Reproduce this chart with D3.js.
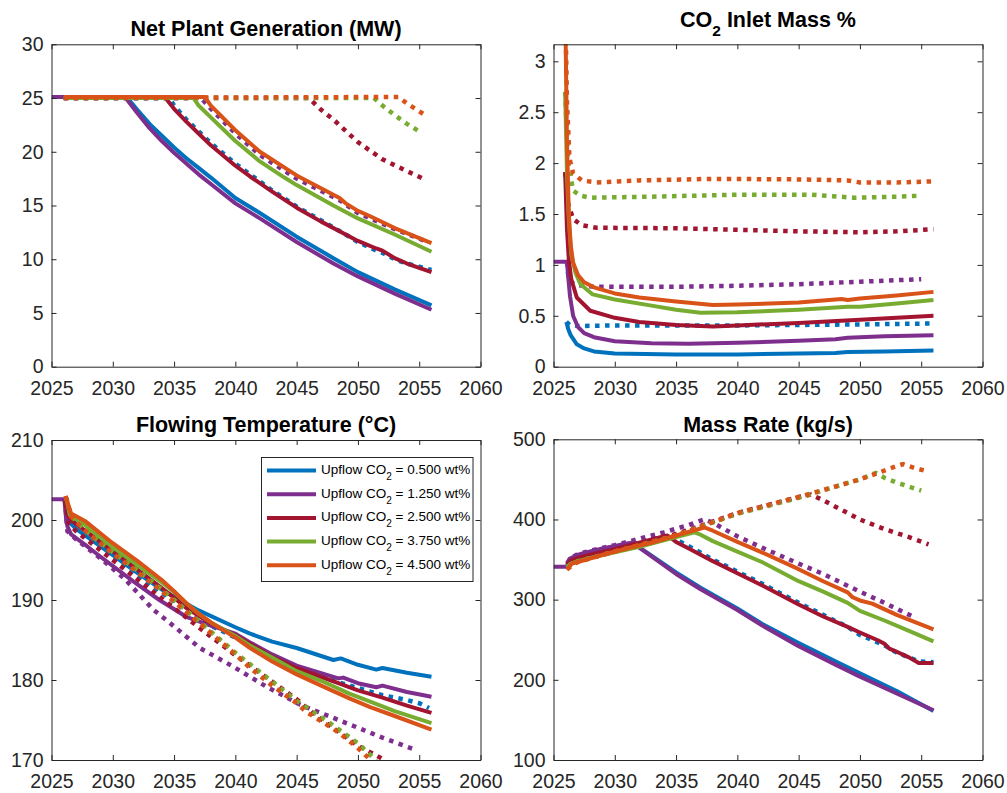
<!DOCTYPE html>
<html>
<head>
<meta charset="utf-8">
<script src="https://cdn.jsdelivr.net/npm/d3@7"></script>
<style>
  body { margin: 0; background: #fff; }
  svg { display: block; font-family: "Liberation Sans", Arial, sans-serif; }
  .tick-label { font-size: 19.5px; fill: #262626; }
  .panel-title { font-size: 21.5px; font-weight: bold; fill: #000; }
  .legend-text { font-size: 13.5px; fill: #000; }
</style>
</head>
<body>
<svg></svg>
<script>
// DATA  (series order: blue, purple, red, green, orange)
const seriesColors = ["#0072BD", "#7E2F8E", "#A2142F", "#77AC30", "#D95319"];
const upflowCO2 = ["0.500", "1.250", "2.500", "3.750", "4.500"];
const xTicks = [2025, 2030, 2035, 2040, 2045, 2050, 2055, 2060];

const genTicks = [0, 5, 10, 15, 20, 25, 30];
const co2Ticks = [0, 0.5, 1, 1.5, 2, 2.5, 3];
const tempTicks = [170, 180, 190, 200, 210];
const rateTicks = [100, 200, 300, 400, 500];

// Net Plant Generation (MW)
const genSolid = [
  [[2026,25.0],[2031.2,25.0],[2032,23.9],[2033,22.6],[2034,21.5],[2035,20.4],[2036,19.4],[2037,18.5],[2038,17.6],[2040,15.7],[2042,14.3],[2045,12.1],[2048,10.1],[2050,8.8],[2053,7.2],[2056,5.7]],
  [[2025,25.1],[2031,25.1],[2032,23.6],[2033,22.2],[2034,21.0],[2035,19.9],[2036,18.9],[2037,17.9],[2038,17.0],[2040,15.2],[2042,13.8],[2045,11.6],[2048,9.6],[2050,8.4],[2053,6.8],[2056,5.3]],
  [[2026,25.0],[2034.3,25.0],[2035,24.0],[2036,22.8],[2037,21.7],[2038,20.6],[2040,18.7],[2041.2,17.7],[2043,16.3],[2045,14.8],[2047,13.5],[2049,12.3],[2050,11.7],[2051.5,11.0],[2052,10.8],[2053,10.1],[2054,9.6],[2056,8.8]],
  [[2026,25.0],[2036.6,25.0],[2037,24.3],[2038,23.2],[2040,21.0],[2042,19.1],[2044,17.6],[2045,16.9],[2048,15.0],[2050,13.8],[2053,12.3],[2056,10.7]],
  [[2026,25.1],[2037.5,25.1],[2038,24.3],[2040,22.0],[2042,20.0],[2045,17.8],[2048.5,15.7],[2049,15.2],[2050,14.5],[2051,14.0],[2053,12.9],[2056,11.5]]
];
const genDotted = [
  [[2026,25.0],[2034.6,25.0],[2035,24.3],[2036,23.0],[2037,21.9],[2038,20.8],[2040,18.9],[2043,16.4],[2045,14.9],[2047,13.6],[2049,12.3],[2050,11.6],[2051.5,10.8],[2052,10.6],[2053,10.0],[2054,9.6],[2056,9.0]],
  [[2026,25.0],[2037.2,25.0],[2038,24.0],[2040,21.7],[2042,19.7],[2045,17.5],[2048.5,15.5],[2050,14.3],[2053,12.8],[2055.5,11.7]],
  [[2026,25.0],[2046,25.0],[2047,23.9],[2048,23.0],[2050,20.9],[2052,19.3],[2054,18.2],[2055.5,17.4]],
  [[2026,25.0],[2051.3,25.0],[2052,24.3],[2053,23.4],[2054,22.6],[2055,21.9]],
  [[2026,25.0],[2053.3,25.1],[2054,24.5],[2055.5,23.4]]
];

// CO2 Inlet Mass %
const co2Solid = [
  [[2026.05,0.44],[2026.2,0.37],[2026.4,0.31],[2026.9,0.22],[2027.5,0.18],[2028.3,0.15],[2030,0.13],[2035,0.12],[2040,0.12],[2045,0.13],[2048,0.135],[2049,0.145],[2052,0.15],[2056,0.16]],
  [[2025,1.03],[2026.1,1.03],[2026.2,0.88],[2026.35,0.69],[2026.6,0.5],[2027,0.39],[2027.5,0.33],[2028.3,0.29],[2030,0.25],[2033,0.23],[2036,0.225],[2040,0.235],[2045,0.255],[2048,0.27],[2049,0.285],[2052,0.3],[2056,0.31]],
  [[2025.95,1.91],[2026.1,1.35],[2026.25,1.05],[2026.45,0.86],[2026.9,0.68],[2028,0.55],[2030,0.48],[2032,0.44],[2035,0.41],[2038,0.395],[2040,0.405],[2045,0.43],[2050,0.46],[2053,0.48],[2056,0.5]],
  [[2025.95,2.7],[2026.1,1.9],[2026.25,1.45],[2026.45,1.1],[2026.8,0.92],[2027.2,0.81],[2028.2,0.71],[2030,0.66],[2033,0.6],[2035,0.56],[2037,0.53],[2040,0.535],[2045,0.56],[2049,0.59],[2050,0.59],[2053,0.62],[2056,0.655]],
  [[2025.95,3.6],[2026.1,2.2],[2026.25,1.5],[2026.4,1.2],[2026.6,1.02],[2027,0.9],[2027.5,0.83],[2028.3,0.78],[2030,0.72],[2032,0.68],[2035,0.64],[2038,0.605],[2040,0.61],[2045,0.63],[2048.5,0.665],[2049,0.655],[2050,0.67],[2053,0.7],[2056,0.735]]
];
const co2Dotted = [
  [[2026.05,0.44],[2026.3,0.41],[2027,0.4],[2030,0.405],[2040,0.405],[2050,0.415],[2056,0.425]],
  [[2026.1,1.03],[2026.2,0.9],[2026.4,0.83],[2027,0.8],[2028.3,0.785],[2035,0.785],[2040,0.795],[2045,0.81],[2050,0.835],[2055,0.86]],
  [[2025.95,1.91],[2026.2,1.6],[2026.6,1.45],[2027.3,1.39],[2028.5,1.365],[2035,1.36],[2040,1.345],[2045,1.33],[2050,1.32],[2053,1.33],[2056,1.35]],
  [[2025.95,2.7],[2026.2,2.0],[2026.6,1.73],[2027.2,1.68],[2028,1.66],[2033,1.67],[2040,1.69],[2046,1.69],[2049.5,1.66],[2053,1.67],[2055,1.68]],
  [[2025.95,3.6],[2026.1,2.6],[2026.3,2.05],[2026.6,1.9],[2027.3,1.83],[2028.5,1.81],[2032,1.83],[2038,1.845],[2045,1.84],[2049,1.83],[2050,1.81],[2053,1.81],[2056,1.82]]
];

// Flowing Temperature (°C)
const tempSolid = [
  [[2026.1,202.6],[2026.4,199.8],[2027,198.9],[2028,197.8],[2030,195.6],[2032,193.4],[2034,191.3],[2035,190.4],[2037,188.7],[2040,186.6],[2041.2,185.8],[2043,184.8],[2045,184.0],[2048,182.5],[2048.6,182.7],[2050,181.9],[2051.5,181.3],[2052,181.5],[2054,180.9],[2056,180.4]],
  [[2025,202.6],[2026.05,202.6],[2026.2,200.0],[2026.3,199.2],[2026.6,198.2],[2028,196.6],[2029,195.4],[2031.7,192.3],[2033.8,190.0],[2036,187.9],[2038,186.8],[2040,185.8],[2041.2,184.7],[2043,183.2],[2045,181.8],[2048.4,180.2],[2048.8,180.3],[2050,179.6],[2051.5,179.1],[2052,179.3],[2054,178.5],[2056,177.9]],
  [[2026.1,202.4],[2026.4,200.4],[2027,199.5],[2028,198.4],[2030,196.1],[2032,193.8],[2034,191.5],[2035,190.3],[2036,189.0],[2038,187.1],[2040,185.6],[2041.2,184.5],[2043,182.9],[2045,181.5],[2048.4,179.6],[2050,178.7],[2052,177.8],[2054,176.8],[2056,175.9]],
  [[2026.2,202.8],[2026.5,200.6],[2027.8,199.3],[2030,196.6],[2032,194.4],[2034,192.2],[2035,191.0],[2036,189.6],[2037,188.3],[2038,187.2],[2040,185.5],[2041.2,184.3],[2043,182.8],[2045,181.1],[2047,179.9],[2049.3,178.3],[2051,177.3],[2053,176.1],[2056,174.6]],
  [[2026.15,203.0],[2026.6,200.8],[2027.8,199.8],[2030,197.1],[2032,194.9],[2034,192.5],[2035,191.1],[2036,189.6],[2037,188.3],[2038,187.2],[2040,185.3],[2041.2,184.0],[2043,182.3],[2045,180.7],[2047,179.3],[2049.3,177.7],[2051,176.6],[2053,175.5],[2056,173.8]]
];
const tempDotted = [
  [[2026.1,202.4],[2026.4,199.6],[2027,198.8],[2028,197.7],[2030,195.5],[2032,193.2],[2034,190.9],[2035,189.8],[2036,188.6],[2038,186.8],[2040,185.3],[2043,183.0],[2045,181.6],[2048,179.9],[2050,179.0],[2052,178.1],[2054,177.5],[2055,177.1],[2055.8,176.5]],
  [[2026.1,202.6],[2026.3,198.6],[2027,197.6],[2029,195.2],[2031,192.6],[2033.3,188.8],[2035,186.7],[2037.1,184.0],[2039.8,181.7],[2042.5,179.2],[2045.3,176.9],[2049.4,174.4],[2052,172.8],[2054.8,171.2]],
  [[2026.1,202.4],[2026.4,199.6],[2027,198.6],[2028,197.4],[2030,195.0],[2032,192.6],[2034,190.2],[2035,189.0],[2037,186.6],[2040,183.1],[2043,179.8],[2045,177.6],[2046.6,175.5],[2048,174.0],[2050,171.8],[2052.3,169.9]],
  [[2026.2,202.8],[2026.6,200.5],[2028,198.4],[2030,196.0],[2032,193.7],[2034,191.3],[2035,190.0],[2037,187.4],[2040,183.4],[2043,179.8],[2045,177.4],[2048,174.3],[2050,172.1],[2051.5,169.9]],
  [[2026.15,203.0],[2026.6,200.4],[2028,198.3],[2030,195.8],[2032,193.5],[2034,191.1],[2035,189.8],[2037,187.2],[2040,183.2],[2041.2,181.5],[2043,179.3],[2045,177.1],[2045.8,176.0],[2048,173.9],[2049.1,172.6],[2050,171.5],[2051.3,169.6]]
];

// Mass Rate (kg/s)
const rateSolid = [
  [[2026.1,344],[2026.4,350],[2027,354],[2028,358],[2029,362],[2030,365],[2031,368],[2031.5,369],[2032,365],[2033,355],[2035,334],[2037,315],[2040,289],[2042,270],[2045,246],[2048,223],[2050,208],[2053,186],[2056,161]],
  [[2025,341],[2026.1,341],[2026.3,351],[2027,356],[2028,360],[2029,364],[2030,367],[2031,370],[2031.4,371],[2032,365],[2033,354],[2035,332],[2037,313],[2040,287],[2042,268],[2045,242],[2048,219],[2050,204],[2053,183],[2056,162]],
  [[2026.1,343],[2026.4,349],[2027,352],[2028,356],[2030,363],[2032,371],[2033,375],[2034.3,380],[2035,372],[2036,364],[2038,348],[2040,333],[2042,318],[2045,294],[2047,279],[2049,266],[2050,259],[2051.5,249],[2052,245],[2052.4,239],[2053,235],[2054,228],[2054.8,221],[2056,221]],
  [[2026.1,340],[2026.4,345],[2027,348],[2028,352],[2030,359],[2032,366],[2034,374],[2036.5,384],[2037,381],[2038,373],[2040,360],[2042,347],[2045,323],[2047,310],[2049,296],[2049.5,291],[2050,286],[2052,274],[2054,261],[2056,248]],
  [[2026.1,337],[2026.5,345],[2027,347],[2028.8,355],[2031.5,366],[2033,371],[2035,380],[2037.3,390],[2038,386],[2040,372],[2042,359],[2045,338],[2047,323],[2049,309],[2049.4,303],[2050,299],[2051,295],[2053,281],[2056,263]]
];
const rateDotted = [
  [[2026.1,343],[2027,352],[2030,363],[2033,375],[2034.6,381],[2035,375],[2036,367],[2038,350],[2040,335],[2042,320],[2045,296],[2047,281],[2049,266],[2050,256],[2052,243],[2053,234],[2054,228],[2054.8,223],[2056,222]],
  [[2026.1,345],[2026.4,352],[2027,357],[2028,361],[2030,368],[2032,376],[2034,384],[2036,393],[2037.3,400],[2038,396],[2040,379],[2042,365],[2045,345],[2047,332],[2050,310],[2052,296],[2054.3,279]],
  [[2026.1,343],[2027,350],[2030,362],[2033,374],[2035,382],[2037,392],[2040,408],[2043,420],[2045,428],[2046,431],[2047,424],[2048,416],[2050,400],[2052,388],[2054,378],[2055.6,369]],
  [[2026.1,341],[2027,348],[2030,360],[2033,372],[2035,380],[2037,391],[2040,407],[2043,419],[2045,427],[2048,441],[2050,450],[2051.3,458],[2052,452],[2053,446],[2054,441],[2055,436]],
  [[2026.1,338],[2027,347],[2030,360],[2033,372],[2035,380],[2037,391],[2040,408],[2043,420],[2045,428],[2048,441],[2050,450],[2051.5,458],[2052.5,464],[2053.5,469],[2054.5,464],[2055.5,460]]
];

// GLOBAL DECLARATIONS
let svg;
let xDomain = [2025, 2060];

setupPage();

drawPanel({id: "gen", left: 51.5, top: 44.3, width: 429, height: 322.4, yDomain: [0, 30], yTicks: genTicks,
  solid: genSolid, dotted: genDotted, titleY: 36, title: [{text: "Net Plant Generation (MW)"}]});
drawPanel({id: "co2", left: 553.5, top: 44.3, width: 429, height: 322.4, yDomain: [0, 3.167], yTicks: co2Ticks,
  solid: co2Solid, dotted: co2Dotted, titleY: 26.7, title: [{text: "CO"}, {text: "2", sub: true}, {text: " Inlet Mass %"}]});
drawPanel({id: "temp", left: 51.5, top: 440, width: 429, height: 320, yDomain: [170, 210], yTicks: tempTicks,
  solid: tempSolid, dotted: tempDotted, titleY: 431.7, title: [{text: "Flowing Temperature (°C)"}]});
drawPanel({id: "rate", left: 553.5, top: 439.3, width: 429, height: 320.7, yDomain: [100, 500], yTicks: rateTicks,
  solid: rateSolid, dotted: rateDotted, titleY: 431.7, title: [{text: "Mass Rate (kg/s)"}]});

drawLegend();

function setupPage(){
  svg = d3.select("svg")
    .attr("width", 1007)
    .attr("height", 793);
}

function drawPanel(p){
  let g = svg.append("g").attr("transform", `translate(${p.left},${p.top})`);

  let x = d3.scaleLinear().domain(xDomain).range([0, p.width]);
  let y = d3.scaleLinear().domain(p.yDomain).range([p.height, 0]);

  g.append("clipPath").attr("id", "clip-" + p.id)
    .append("rect").attr("width", p.width).attr("height", p.height);

  let line = d3.line()
    .x(d => x(d[0]))
    .y(d => y(d[1]));

  let plot = g.append("g").attr("clip-path", `url(#clip-${p.id})`);

  // solid then dotted line for each upflow case
  seriesColors.forEach(function(color, i){
    plot.append("path")
      .datum(p.solid[i])
      .attr("d", line)
      .attr("fill", "none")
      .attr("stroke", color)
      .attr("stroke-width", 4)
      .attr("stroke-linejoin", "round");
    plot.append("path")
      .datum(p.dotted[i])
      .attr("d", line)
      .attr("fill", "none")
      .attr("stroke", color)
      .attr("stroke-width", 4.5)
      .attr("stroke-dasharray", "4.5,5.5");
  });

  // axes box with inward ticks
  let bottom = g.append("g")
    .attr("transform", `translate(0,${p.height})`)
    .call(d3.axisBottom(x).tickValues(xTicks).tickSizeInner(-5).tickSizeOuter(0).tickPadding(14).tickFormat(d3.format("d")));
  let left = g.append("g")
    .call(d3.axisLeft(y).tickValues(p.yTicks).tickSizeInner(-5).tickSizeOuter(0).tickPadding(8).tickFormat(d => String(d)));
  let top = g.append("g")
    .call(d3.axisTop(x).tickValues(xTicks).tickSizeInner(-5).tickSizeOuter(0).tickFormat(""));
  let right = g.append("g")
    .attr("transform", `translate(${p.width},0)`)
    .call(d3.axisRight(y).tickValues(p.yTicks).tickSizeInner(-5).tickSizeOuter(0).tickFormat(""));

  [bottom, left, top, right].forEach(function(a){
    a.attr("font-size", null).attr("font-family", null).attr("color", "#262626");
    a.selectAll("text").attr("class", "tick-label");
  });

  // title
  let title = svg.append("text")
    .attr("class", "panel-title")
    .attr("x", p.left + p.width / 2)
    .attr("y", p.titleY)
    .attr("text-anchor", "middle");
  addRichText(title, p.title, 15.5, 9.3);
}

function addRichText(textSel, parts, subSize, subShift){
  parts.forEach(function(part){
    if (part.sub){
      textSel.append("tspan").attr("font-size", subSize + "px").attr("dy", subShift).text(part.text);
    }
    else if (textSel.selectAll("tspan").size() > 0){
      textSel.append("tspan").attr("dy", -subShift).text(part.text);
    }
    else {
      textSel.append("tspan").text(part.text);
    }
  });
}

function drawLegend(){
  let legend = svg.append("g").attr("transform", "translate(261.5,457.5)");

  legend.append("rect")
    .attr("width", 211.5)
    .attr("height", 124)
    .attr("fill", "#fff")
    .attr("stroke", "#262626")
    .attr("stroke-width", 1);

  seriesColors.forEach(function(color, i){
    let rowY = 13 + i * 23.7;
    legend.append("line")
      .attr("x1", 5.5).attr("x2", 54.5)
      .attr("y1", rowY).attr("y2", rowY)
      .attr("stroke", color)
      .attr("stroke-width", 4);
    let label = legend.append("text")
      .attr("class", "legend-text")
      .attr("x", 59.5)
      .attr("y", rowY + 3.5);
    addRichText(label, [{text: "Upflow CO"}, {text: "2", sub: true}, {text: ` = ${upflowCO2[i]} wt%`}], 10, 6);
  });
}
</script>
</body>
</html>
